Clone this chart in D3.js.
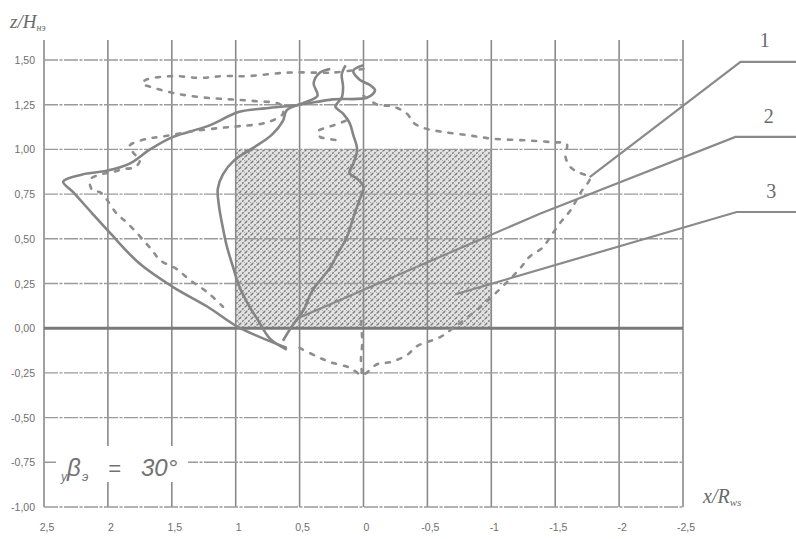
<!DOCTYPE html>
<html><head><meta charset="utf-8">
<script src="https://cdnjs.cloudflare.com/ajax/libs/d3/7.8.5/d3.min.js"></script>
<style>body{margin:0;background:#fff}</style>
</head><body>
<svg id="c" width="796" height="539"></svg>
<script>
// ---------- data ----------
const xTicks = [2.5, 2, 1.5, 1, 0.5, 0, -0.5, -1, -1.5, -2, -2.5];
const xTickLabels = ["2,5","2","1,5","1","0,5","0","-0,5","-1","-1,5","-2","-2,5"];
const yTicks = [1.5, 1.25, 1, 0.75, 0.5, 0.25, 0, -0.25, -0.5, -0.75, -1];
const yTickLabels = ["1,50","1,25","1,00","0,75","0,50","0,25","0,00","-0,25","-0,50","-0,75","-1,00"];

// hatched zone: x from 1 to -1, z from 0 to 1
const zoneX = [1, -1];
const zoneZ = [0, 1];

// solid trajectories [x/R, z/H]
const solidOuter = [[0.00,1.47],[0.08,1.44],[0.03,1.39],[-0.05,1.36],[-0.09,1.33],[-0.03,1.29],[0.24,1.28],[0.50,1.25],[0.76,1.23],[0.97,1.21],[1.22,1.13],[1.49,1.07],[1.67,1.00],[1.83,0.92],[2.01,0.88],[2.20,0.86],[2.35,0.82],[2.27,0.76],[2.12,0.64],[1.98,0.53],[1.75,0.36],[1.49,0.23],[1.22,0.12],[0.99,0.01],[0.81,-0.05],[0.60,-0.11]];
const solidInnerLeft = [[0.26,1.45],[0.34,1.43],[0.39,1.37],[0.36,1.30],[0.47,1.26],[0.60,1.22],[0.63,1.16],[0.72,1.08],[0.86,1.01],[1.01,0.94],[1.10,0.86],[1.14,0.78],[1.13,0.68],[1.10,0.56],[1.07,0.46],[1.02,0.34],[0.97,0.23],[0.90,0.13],[0.83,0.05],[0.73,-0.06],[0.60,-0.12]];
const solidInnerRight = [[0.14,1.47],[0.17,1.42],[0.16,1.35],[0.17,1.29],[0.22,1.24],[0.16,1.20],[0.11,1.15],[0.08,1.08],[0.05,1.00],[0.08,0.92],[0.11,0.87],[0.04,0.83],[0.00,0.79],[0.03,0.72],[0.07,0.64],[0.13,0.51],[0.20,0.42],[0.26,0.34],[0.40,0.21],[0.47,0.10],[0.53,0.04],[0.57,0.00],[0.63,-0.07]];

// dashed trajectories
const dashedRight = [[0.00,1.30],[-0.11,1.25],[-0.23,1.24],[-0.34,1.20],[-0.39,1.15],[-0.47,1.12],[-0.60,1.10],[-0.81,1.08],[-1.01,1.06],[-1.28,1.05],[-1.48,1.04],[-1.59,1.03],[-1.58,0.96],[-1.62,0.90],[-1.69,0.87],[-1.77,0.84],[-1.70,0.76],[-1.62,0.66],[-1.54,0.59],[-1.48,0.53],[-1.40,0.45],[-1.30,0.40],[-1.22,0.33],[-1.04,0.20],[-0.95,0.14],[-0.83,0.07],[-0.70,0.00],[-0.60,-0.05],[-0.42,-0.10],[-0.34,-0.15],[-0.21,-0.19],[-0.11,-0.20],[0.01,-0.26],[0.11,-0.22],[0.26,-0.19],[0.36,-0.16],[0.50,-0.11]];
const dashedLeft = [[0.00,1.45],[0.24,1.43],[0.58,1.43],[0.91,1.41],[1.10,1.41],[1.28,1.40],[1.49,1.41],[1.70,1.39],[1.73,1.37],[1.62,1.34],[1.45,1.31],[1.25,1.29],[1.05,1.28],[0.85,1.27],[0.65,1.25],[0.63,1.20],[0.76,1.15],[0.97,1.13],[1.12,1.12],[1.35,1.10],[1.59,1.07],[1.69,1.06],[1.83,1.02],[1.80,0.98],[1.75,0.94],[1.79,0.90],[1.88,0.89],[1.98,0.87],[2.06,0.86],[2.14,0.83],[2.12,0.77],[2.06,0.76],[2.01,0.72],[1.93,0.64],[1.85,0.59],[1.67,0.45],[1.59,0.38],[1.46,0.33],[1.36,0.27],[1.22,0.20],[1.10,0.12]];
const dashedCenter = [[0.14,1.16],[0.21,1.14],[0.30,1.12],[0.36,1.10],[0.34,1.07],[0.28,1.06],[0.20,1.05]];
const dashedAxis = [[0.02,0.04],[0.01,-0.08],[0.02,-0.18],[0.01,-0.26]];

// leader lines (callouts) and their labels
const leaderLabels = ["1","2","3"];
const leaderLabelPos = [[-3.14,1.57],[-3.17,1.15],[-3.19,0.73]];
const leader1 = [[-3.40,1.49],[-2.95,1.49],[-1.77,0.845]];
const leader2 = [[-3.40,1.07],[-2.91,1.07],[-1.38,0.64],[0.50,0.06]];
const leader3 = [[-3.40,0.65],[-2.92,0.65],[-0.72,0.19]];

// ---------- drawing ----------
const svg = d3.select("#c");
svg.append("rect").attr("width",796).attr("height",539).attr("fill","#fff");

const x = d3.scaleLinear().domain([2.5,-2.5]).range([44,683]);
const y = d3.scaleLinear().domain([-1,1.5]).range([507,60]);
const gridTop = 40;

const defs = svg.append("defs");
const pat = defs.append("pattern").attr("id","hatch").attr("patternUnits","userSpaceOnUse")
  .attr("width",6).attr("height",6);
pat.append("rect").attr("width",6).attr("height",6).attr("fill","#e2e2e2");
pat.append("path").attr("d","M0,6 L6,0 M-1,1 L1,-1 M5,7 L7,5").attr("stroke","#7c7c7c").attr("stroke-width",1.2).attr("stroke-dasharray","2,1.2");
pat.append("path").attr("d","M0,0 L6,6 M-1,5 L1,7 M5,-1 L7,1").attr("stroke","#9a9a9a").attr("stroke-width",1).attr("stroke-dasharray","1.5,1.5");

svg.append("rect")
  .attr("x", x(zoneX[0])).attr("y", y(zoneZ[1]))
  .attr("width", x(zoneX[1]) - x(zoneX[0]))
  .attr("height", y(zoneZ[0]) - y(zoneZ[1]))
  .attr("fill","url(#hatch)");

// grid
const grid = svg.append("g");
grid.selectAll("line.v").data(xTicks).join("line")
  .attr("x1", d=>x(d)).attr("x2", d=>x(d))
  .attr("y1", gridTop).attr("y2", y(-1))
  .attr("stroke","#8a8a8a").attr("stroke-width",1.6);
grid.selectAll("line.h").data(yTicks).join("line")
  .attr("x1", x(2.5)).attr("x2", x(-2.5))
  .attr("y1", d=>y(d)).attr("y2", d=>y(d))
  .attr("stroke", d=> d===0 ? "#7a7a7a" : "#9a9a9a")
  .attr("stroke-width", d=> d===0 ? 3 : 1.4)
  .attr("stroke-dasharray", d=> d===0 ? null : "14,1.5,3,1.5");

// tick labels
svg.append("g").selectAll("text").data(yTicks).join("text")
  .attr("x", 35).attr("y", d=>y(d)+4)
  .attr("text-anchor","end")
  .attr("font-family","Liberation Sans, Arial, sans-serif").attr("font-size",10.5)
  .attr("fill","#6e6e6e")
  .text((d,i)=>yTickLabels[i]);
svg.append("g").selectAll("text").data(xTicks).join("text")
  .attr("x", d=>x(d)+3).attr("y", 531)
  .attr("text-anchor","middle")
  .attr("font-family","Liberation Sans, Arial, sans-serif").attr("font-size",10.5)
  .attr("fill","#6e6e6e")
  .text((d,i)=>xTickLabels[i]);

// axis titles
const zt = svg.append("text").attr("x",10).attr("y",28)
  .attr("font-family","Liberation Serif, Times New Roman, serif").attr("font-style","italic")
  .attr("font-size",19).attr("fill","#6a6a6a");
zt.append("tspan").text("z/H");
zt.append("tspan").attr("font-size",10).attr("dy",3).text("нэ");

const xt = svg.append("text").attr("x",703).attr("y",503)
  .attr("font-family","Liberation Serif, Times New Roman, serif").attr("font-style","italic")
  .attr("font-size",20).attr("fill","#6a6a6a");
xt.append("tspan").text("x/R");
xt.append("tspan").attr("font-size",11).attr("dy",3).text("ws");

// annotation with white background over grid
svg.append("rect").attr("x",56).attr("y",446).attr("width",132).attr("height",36).attr("fill","#fff");
const annFont = "Liberation Sans, Arial, sans-serif";
const ann = svg.append("g").attr("fill","#727272").attr("font-family",annFont).attr("font-style","italic");
ann.append("text").attr("x",61).attr("y",481).attr("font-size",12).text("y");
ann.append("text").attr("x",67).attr("y",476).attr("font-size",24).text("β");
ann.append("text").attr("x",82).attr("y",481).attr("font-size",13).text("э");
ann.append("text").attr("x",108).attr("y",476).attr("font-size",22).text("=");
ann.append("text").attr("x",141).attr("y",476).attr("font-size",24).text("30°");

// curves
const line = d3.line().x(d=>x(d[0])).y(d=>y(d[1])).curve(d3.curveCatmullRom.alpha(0.5));
const solidGroup = [solidOuter, solidInnerLeft, solidInnerRight];
svg.append("g").selectAll("path").data(solidGroup).join("path")
  .attr("d", line).attr("fill","none")
  .attr("stroke","#858585").attr("stroke-width",2.6).attr("stroke-linejoin","round");
const dashedGroup = [dashedRight, dashedLeft, dashedCenter, dashedAxis];
svg.append("g").selectAll("path").data(dashedGroup).join("path")
  .attr("d", line).attr("fill","none")
  .attr("stroke","#8e8e8e").attr("stroke-width",2.6)
  .attr("stroke-dasharray","4,8").attr("stroke-linecap","round");

// leaders
const lin = d3.line().x(d=>x(d[0])).y(d=>y(d[1]));
svg.append("g").selectAll("path").data([leader1,leader2,leader3]).join("path")
  .attr("d", lin).attr("fill","none")
  .attr("stroke","#8a8a8a").attr("stroke-width",2.2);
svg.append("g").selectAll("text").data(leaderLabels).join("text")
  .attr("x",(d,i)=>x(leaderLabelPos[i][0])).attr("y",(d,i)=>y(leaderLabelPos[i][1]))
  .attr("text-anchor","middle")
  .attr("font-family","Liberation Serif, Times New Roman, serif")
  .attr("font-size",20).attr("fill","#6a6a6a")
  .text(d=>d);
</script>
</body></html>
